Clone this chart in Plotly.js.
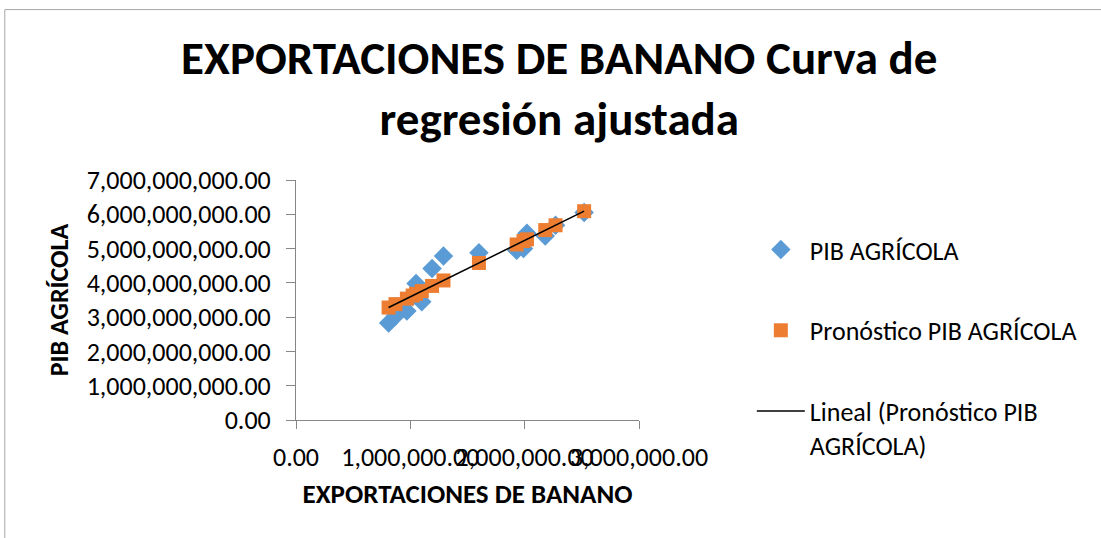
<!DOCTYPE html>
<html>
<head>
<meta charset="utf-8">
<script src="https://cdn.plot.ly/plotly-3.0.1.min.js"></script>
<style>
html,body{margin:0;padding:0;background:#fff;overflow:hidden;width:1101px;height:538px;}
#chart{position:absolute;left:0;top:0;width:1101px;height:538px;}
</style>
</head>
<body>
<div id="chart"></div>
<script>
// Data
const exportaciones = [810000, 870000, 970000, 1020000, 1050000, 1100000, 1190000, 1290000, 1600000, 1930000, 1990000, 2020000, 2180000, 2270000, 2520000];
const pibAgricola   = [2.83e9, 3.03e9, 3.18e9, 3.60e9, 3.98e9, 3.45e9, 4.42e9, 4.78e9, 4.88e9, 4.95e9, 5.00e9, 5.45e9, 5.37e9, 5.68e9, 6.05e9];
const pronostico    = [3.28e9, 3.38e9, 3.54e9, 3.63e9, 3.68e9, 3.76e9, 3.91e9, 4.07e9, 4.58e9, 5.12e9, 5.22e9, 5.27e9, 5.54e9, 5.68e9, 6.09e9];
const xTicks = [0, 1000000, 2000000, 3000000];
const yTicks = [0, 1e9, 2e9, 3e9, 4e9, 5e9, 6e9, 7e9];
const fmt = v => v.toLocaleString('en-US', {minimumFractionDigits: 2, maximumFractionDigits: 2});

// Linear trendline (least squares) through the forecast series
const n = exportaciones.length;
const mx = exportaciones.reduce((a,b)=>a+b,0)/n;
const my = pronostico.reduce((a,b)=>a+b,0)/n;
let sxy = 0, sxx = 0;
for (let i=0;i<n;i++){ sxy += (exportaciones[i]-mx)*(pronostico[i]-my); sxx += (exportaciones[i]-mx)**2; }
const slope = sxy/sxx, icpt = my - slope*mx;
const xMin = Math.min(...exportaciones), xMax = Math.max(...exportaciones);
const trendX = [xMin, xMax];
const trendY = trendX.map(x => icpt + slope*x);

const FONT = "Carlito, Calibri, 'Open Sans', sans-serif";

const traces = [
  {x: exportaciones, y: pibAgricola, type: 'scatter', mode: 'markers', name: 'PIB AGRÍCOLA',
   legendgroup: 'a', marker: {symbol: 'diamond', size: 15, color: '#5B9BD5'}},
  {x: exportaciones, y: pronostico, type: 'scatter', mode: 'markers', name: 'Pronóstico PIB AGRÍCOLA',
   legendgroup: 'b', marker: {symbol: 'square', size: 14, color: '#ED7D31'}},
  {x: trendX, y: trendY, type: 'scatter', mode: 'lines', name: 'Lineal (Pronóstico PIB<br>AGRÍCOLA)',
   legendgroup: 'c', line: {color: '#000000', width: 1.5}}
];

const layout = {
  width: 1101, height: 538,
  margin: {l: 296, r: 462, t: 180, b: 118},
  paper_bgcolor: '#ffffff', plot_bgcolor: '#ffffff',
  font: {family: FONT, color: '#000000', size: 26},
  title: {text: '<b>EXPORTACIONES DE BANANO Curva de<br>regresión ajustada</b>',
          x: 0.508, xanchor: 'center', y: 0.862, yanchor: 'top',
          font: {family: FONT, size: 47, color: '#000000'}},
  xaxis: {range: [0, 3000000], tickvals: xTicks, ticktext: xTicks.map(fmt), tickangle: 0,
          showgrid: false, zeroline: false, showline: true, linecolor: '#868686', linewidth: 1,
          ticks: 'outside', ticklen: 8, tickcolor: '#868686', ticklabelstandoff: 6,
          tickfont: {family: FONT, size: 26, color: '#000'},
          title: {text: '<b>EXPORTACIONES DE BANANO</b>', font: {family: FONT, size: 27, color: '#000'}, standoff: 11},
          fixedrange: true},
  yaxis: {range: [0, 7000000000], tickvals: yTicks, ticktext: yTicks.map(fmt),
          showgrid: false, zeroline: false, showline: true, linecolor: '#868686', linewidth: 1,
          ticks: 'outside', ticklen: 9, tickcolor: '#868686', ticklabelstandoff: 10,
          tickfont: {family: FONT, size: 26, color: '#000'},
          title: {text: '<b>PIB AGRÍCOLA</b>', font: {family: FONT, size: 26, color: '#000'}, standoff: 10},
          fixedrange: true},
  shapes: [
    {type: 'rect', xref: 'paper', yref: 'paper', x0: -0.849, x1: 3, y0: -1, y1: 1.71,
     line: {color: '#a6a6a6', width: 1}, fillcolor: 'rgba(0,0,0,0)', layer: 'above'}
  ],
  showlegend: true,
  legend: {x: 1.329, xanchor: 'left', y: 0.808, yanchor: 'top', valign: 'top',
           font: {family: FONT, size: 26, color: '#000'},
           tracegroupgap: 44, itemwidth: 48, bgcolor: 'rgba(0,0,0,0)'}
};

Plotly.newPlot('chart', traces, layout, {displayModeBar: false, staticPlot: true});
</script>
</body>
</html>
